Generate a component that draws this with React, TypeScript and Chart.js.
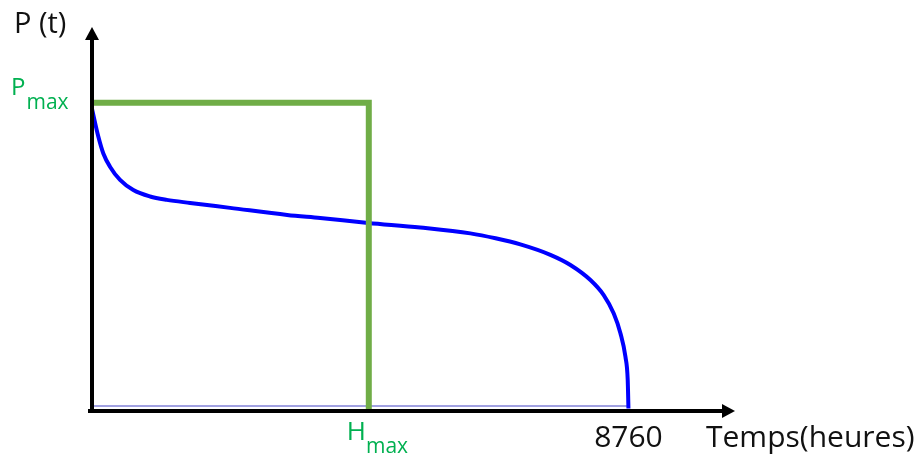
import React, { useEffect, useRef } from "react";
import { Chart, registerables } from "chart.js";

Chart.register(...registerables);

// Load duration curve (hours sorted, relative power)
const hours = [0, 103, 185, 294, 458, 675, 948, 1221, 1602, 2255, 3187, 3726, 4511, 5360, 6178, 6590, 6995, 7485, 7812, 8139, 8356, 8520, 8629, 8711, 8748, 8760];
const load = [98, 89.0, 83.5, 79.2, 74.9, 71.6, 69.5, 68.4, 67.4, 65.8, 63.5, 62.5, 60.9, 59.4, 57.5, 55.9, 53.9, 50.5, 47.2, 42.3, 37.4, 31.4, 25.0, 17.3, 9.8, 0.5];

const P_MAX = 100;
const H_MAX = 4520;
const YEAR_HOURS = 8760;
const baseline = [1.3, 1.3];

const X_MAX = 10500;
const Y_MAX = 125;

const FONT = "'Open Sans', Lato, sans-serif";

const decorPlugin = {
  id: "decor",
  afterDatasetsDraw(chart: any) {
    const { ctx, scales } = chart;
    const x = scales.x;
    const y = scales.y;
    const x0 = x.getPixelForValue(0);
    const y0 = y.getPixelForValue(0) + 1;
    const yTop = y.getPixelForValue(Y_MAX) + 1;
    const xEnd = x.getPixelForValue(X_MAX);
    ctx.save();
    ctx.fillStyle = "#000";
    ctx.strokeStyle = "#000";
    ctx.lineWidth = 4;
    // y axis
    ctx.beginPath();
    ctx.moveTo(x0, y0 + 2);
    ctx.lineTo(x0, yTop + 12);
    ctx.stroke();
    ctx.beginPath();
    ctx.moveTo(x0, yTop);
    ctx.lineTo(x0 - 7, yTop + 13);
    ctx.lineTo(x0 + 7, yTop + 13);
    ctx.closePath();
    ctx.fill();
    // x axis
    ctx.beginPath();
    ctx.moveTo(x0 - 4, y0);
    ctx.lineTo(xEnd - 12, y0);
    ctx.stroke();
    ctx.beginPath();
    ctx.moveTo(xEnd, y0);
    ctx.lineTo(xEnd - 13, y0 - 7);
    ctx.lineTo(xEnd - 13, y0 + 7);
    ctx.closePath();
    ctx.fill();

    // texts
    ctx.textBaseline = "alphabetic";
    ctx.textAlign = "left";
    ctx.fillStyle = "#111";
    ctx.font = `29px ${FONT}`;
    ctx.fillText("P (t)", 14, 33);

    ctx.font = `30px ${FONT}`;
    const h8760 = x.getPixelForValue(YEAR_HOURS);
    ctx.textAlign = "center";
    ctx.fillText("8760", h8760, 447);
    ctx.textAlign = "left";
    ctx.fillText("Temps(heures)", 706, 447);

    // green labels
    ctx.fillStyle = "#00B050";
    const pPx = y.getPixelForValue(P_MAX);
    ctx.font = `24px ${FONT}`;
    ctx.fillText("P", 11, pPx - 8);
    const pw = ctx.measureText("P").width;
    ctx.font = `21px ${FONT}`;
    ctx.fillText("max", 11 + pw + 1, pPx + 6);

    const hPx = x.getPixelForValue(H_MAX);
    ctx.font = `26px ${FONT}`;
    ctx.fillText("H", hPx - 22, 440);
    const hw = ctx.measureText("H").width;
    ctx.font = `21px ${FONT}`;
    ctx.fillText("max", hPx - 22 + hw, 453);
    ctx.restore();
  },
};

export default function App() {
  const ref = useRef<HTMLCanvasElement | null>(null);
  useEffect(() => {
    if (!ref.current) return;
    const curve = hours.map((h, i) => ({ x: h, y: load[i] }));
    const green = [
      { x: 0, y: P_MAX },
      { x: H_MAX, y: P_MAX },
      { x: H_MAX, y: 0 },
    ];
    const base = [
      { x: 0, y: baseline[0] },
      { x: YEAR_HOURS, y: baseline[1] },
    ];
    const chart = new Chart(ref.current, {
      type: "line",
      data: {
        datasets: [
          {
            data: green,
            borderColor: "#70AD47",
            borderWidth: 6,
            pointRadius: 0,
            tension: 0,
            borderJoinStyle: "miter",
            borderCapStyle: "butt",
            order: 0,
          },
          {
            data: curve,
            borderColor: "#0000FF",
            borderWidth: 4,
            pointRadius: 0,
            cubicInterpolationMode: "monotone",
            order: 1,
          },
          {
            data: base,
            borderColor: "rgba(130,130,215,0.75)",
            borderWidth: 2,
            pointRadius: 0,
            order: 2,
          },
        ] as any,
      },
      options: {
        animation: false,
        responsive: false,
        maintainAspectRatio: false,
        events: [],
        layout: { padding: { left: 92, right: 185, top: 26, bottom: 47 } },
        plugins: { legend: { display: false }, tooltip: { enabled: false } },
        scales: {
          x: { type: "linear", min: 0, max: X_MAX, display: false },
          y: { type: "linear", min: 0, max: Y_MAX, display: false },
        },
      },
      plugins: [decorPlugin],
    });
    return () => chart.destroy();
  }, []);
  return (
    <div style={{ position: "fixed", left: 0, top: 0, width: 920, height: 457, background: "#fff" }}>
      <canvas ref={ref} width={920} height={457} style={{ display: "block" }} />
    </div>
  );
}
